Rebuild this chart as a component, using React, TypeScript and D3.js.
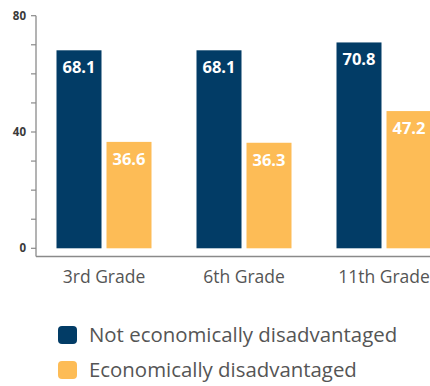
import React from "react";
import * as d3 from "d3";

const categories = ["3rd Grade", "6th Grade", "11th Grade"];
const seriesNames = ["Not economically disadvantaged", "Economically disadvantaged"];
const notDisadvantaged = [68.1, 68.1, 70.8];
const disadvantaged = [36.6, 36.3, 47.2];
const yTickLabels = [0, 40, 80];
const colors = ["#023c66", "#fdbc56"];

export default function App() {
  const W = 430, H = 386;
  const axisX = 36;
  const y = d3.scaleLinear().domain([0, 80]).range([248.3, 15.7]);
  const x0 = d3.scaleBand().domain(categories).range([34, 454]).paddingInner(0).paddingOuter(0);
  const series = [notDisadvantaged, disadvantaged];
  const barW = 45, gap = 5;
  const minorTicks = d3.range(0, 81, 10);
  const font = "'Open Sans', 'Noto Sans', sans-serif";
  return (
    <svg width={W} height={H} style={{ position: "absolute", left: 0, top: 0 }}>
      <rect width={W} height={H} fill="#fff" />
      {/* y axis */}
      <line x1={axisX} x2={axisX} y1={y(80)} y2={256.5} stroke="#8a8a8a" strokeWidth={1.3} />
      {minorTicks.map((t) => (
        <line key={t} x1={axisX - 5} x2={axisX} y1={y(t)} y2={y(t)} stroke="#8a8a8a" strokeWidth={1.2} />
      ))}
      {yTickLabels.map((t) => (
        <text key={t} x={axisX - 10} y={y(t)} dy="0.35em" textAnchor="end" fontFamily={font} fontWeight="bold" fontSize={11.5} fill="#3a3a3a">
          {t}
        </text>
      ))}
      {/* x axis */}
      <line x1={axisX} x2={W} y1={256.5} y2={256.5} stroke="#8a8a8a" strokeWidth={1.3} />
      {categories.map((c, i) => {
        const cx = (x0(c) as number) + x0.bandwidth() / 2;
        return (
          <g key={c}>
            {series.map((s, j) => {
              const bx = cx - barW - gap / 2 + j * (barW + gap);
              return (
                <g key={j}>
                  <rect x={bx} y={y(s[i])} width={barW} height={y(0) - y(s[i])} fill={colors[j]} />
                  <text x={bx + barW / 2} y={y(s[i]) + 23} textAnchor="middle" fontFamily={font} fontWeight="bold" fontSize={16.5} fill="#fff">
                    {s[i].toFixed(1)}
                  </text>
                </g>
              );
            })}
            <text x={cx} y={283} textAnchor="middle" fontFamily={font} fontSize={17.5} fill="#555">
              {c}
            </text>
          </g>
        );
      })}
      {/* legend */}
      {seriesNames.map((n, j) => (
        <g key={n} transform={`translate(58, ${326 + j * 35})`}>
          <rect x={0} y={0} width={19} height={18} rx={4} fill={colors[j]} />
          <text x={31} y={9} dy="0.36em" fontFamily={font} fontSize={20.4} fill="#555">
            {n}
          </text>
        </g>
      ))}
    </svg>
  );
}
